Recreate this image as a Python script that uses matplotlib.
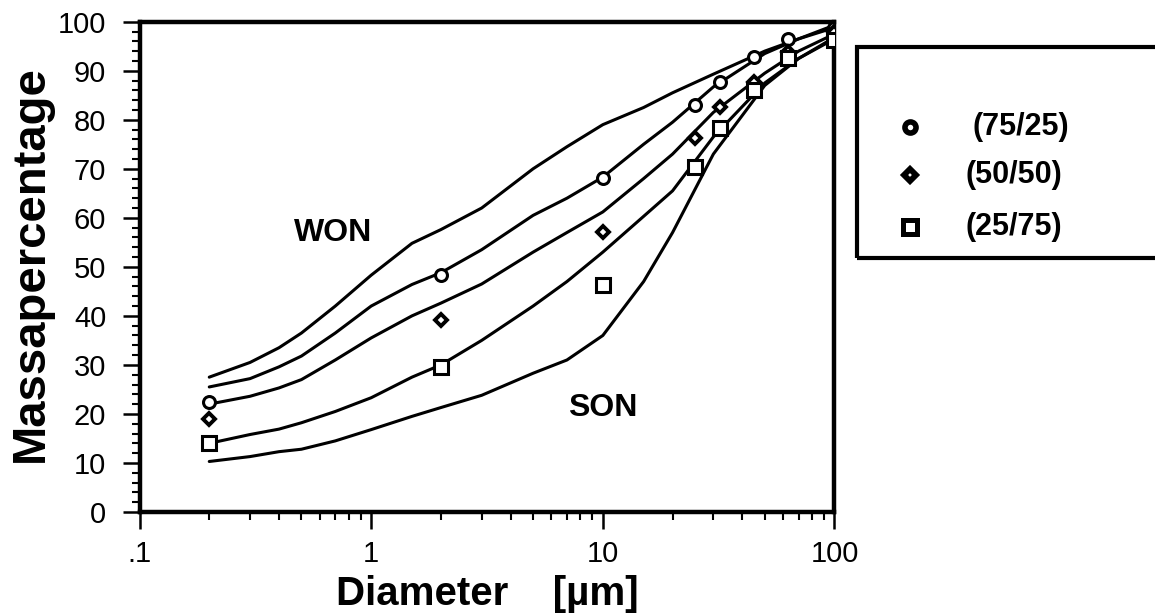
import matplotlib
matplotlib.use('Agg')
import matplotlib.pyplot as plt
from matplotlib.lines import Line2D
from matplotlib.patches import Rectangle
from matplotlib.ticker import LogLocator, NullFormatter, MultipleLocator

plt.rcParams['font.family'] = ['Liberation Sans', 'DejaVu Sans']

# fitted curves
curve_x = [0.2, 0.3, 0.4, 0.5, 0.7, 1, 1.5, 2, 3, 5, 7, 10, 15, 20, 30, 50, 70, 100]
won = [27.5, 30.5, 33.5, 36.5, 42.0, 48.3, 54.8, 57.6, 62.0, 70.0, 74.5, 79.0, 82.5, 85.5, 89.3, 94.0, 96.5, 99.3]
fit_75_25 = [25.5, 27.2, 29.6, 31.8, 36.5, 42.0, 46.4, 48.8, 53.5, 60.5, 64.0, 68.3, 75.0, 79.5, 86.7, 93.5, 96.5, 98.8]
fit_50_50 = [22.0, 23.6, 25.3, 27.0, 31.0, 35.5, 40.0, 42.6, 46.5, 53.0, 57.0, 61.2, 68.0, 73.0, 81.5, 89.5, 94.0, 97.5]
fit_25_75 = [14.0, 15.8, 16.9, 18.2, 20.5, 23.3, 27.5, 30.0, 35.0, 42.0, 47.0, 53.0, 60.3, 65.5, 76.5, 87.5, 92.5, 96.8]
son = [10.3, 11.3, 12.3, 12.8, 14.5, 16.8, 19.5, 21.3, 23.8, 28.3, 31.0, 36.0, 47.0, 57.0, 73.0, 87.0, 92.5, 96.5]

# measured mixtures
meas_x = [0.2, 2, 10, 25, 32, 45, 63, 100]
pts_75_25 = [22.5, 48.3, 68.1, 83.0, 87.8, 92.9, 96.5, 98.8]
pts_50_50 = [19.0, 39.2, 57.2, 76.2, 82.7, 87.8, 93.8, 98.0]
pts_25_75 = [14.0, 29.6, 46.3, 70.4, 78.3, 86.0, 92.5, 96.3]
labels = ['(75/25)', '(50/50)', '(25/75)']

fig = plt.figure(figsize=(11.55, 6.13), dpi=100)
ax = fig.add_axes([0.1208, 0.1648, 0.6017, 0.7998])

for curve in [won, fit_75_25, fit_50_50, fit_25_75, son]:
    ax.plot(curve_x, curve, color='black', lw=2.2, solid_capstyle='round',
            solid_joinstyle='round', zorder=2)

ax.plot(meas_x, pts_75_25, 'o', ms=8.6, mew=2.2, mfc='white', mec='black', zorder=3)
ax.plot(meas_x, pts_50_50, 'D', ms=6, mew=2.8, mfc='white', mec='black', zorder=3)
ax.plot(meas_x, pts_25_75, 's', ms=10.5, mew=2.2, mfc='white', mec='black', zorder=3)

ax.text(0.684, 56.9, 'WON', fontsize=23, fontweight='bold', ha='center', va='center')
ax.text(10.0, 21.2, 'SON', fontsize=23, fontweight='bold', ha='center', va='center')

ax.set_xscale('log')
ax.set_xlim(0.1, 100)
ax.set_ylim(0, 100)
ax.set_xticks([0.1, 1, 10, 100])
ax.set_xticklabels(['.1', '1', '10', '100'])
ax.xaxis.set_minor_locator(LogLocator(base=10, subs=range(2, 10)))
ax.xaxis.set_minor_formatter(NullFormatter())
ax.set_yticks(range(0, 101, 10))
ax.yaxis.set_minor_locator(MultipleLocator(2))

ax.tick_params(which='major', direction='out', length=12, width=1.8,
               labelsize=21, top=False, right=False)
ax.tick_params(axis='y', which='major', pad=12)
ax.tick_params(axis='x', which='major', pad=8)
ax.tick_params(which='minor', direction='out', length=6, width=1.5,
               top=False, right=False)
for side in ['left', 'bottom', 'top', 'right']:
    ax.spines[side].set_linewidth(3.2)

ax.text(-0.139, 0.506, 'Massapercentage', transform=ax.transAxes, rotation=90,
        rotation_mode='anchor', ha='center', va='baseline',
        fontsize=34, fontweight='bold')
ax.text(0.5, -0.19, 'Diameter    [µm]', transform=ax.transAxes,
        ha='center', va='baseline', fontsize=29, fontweight='bold')

# legend box, cut off by the right edge as in the original
fig.add_artist(Rectangle((0.742, 0.5791), 0.3, 0.3442, transform=fig.transFigure,
                         fill=False, lw=3.0, ec='black', clip_on=False))
leg_y = [0.7928, 0.7145, 0.6297]
leg_text_x = [0.8424, 0.8355, 0.8355]
leg_marks = [dict(marker='o', ms=8, mew=4.0), dict(marker='D', ms=6, mew=4.2),
             dict(marker='s', ms=9.4, mew=3.6)]
for lab, yy, tx, mk in zip(labels, leg_y, leg_text_x, leg_marks):
    fig.add_artist(Line2D([0.788], [yy], transform=fig.transFigure, linestyle='none',
                          mfc='white', mec='black', **mk))
    fig.text(tx, yy, lab, fontsize=22, fontweight='bold', ha='left', va='center')

fig.savefig('out.png', dpi=100)
